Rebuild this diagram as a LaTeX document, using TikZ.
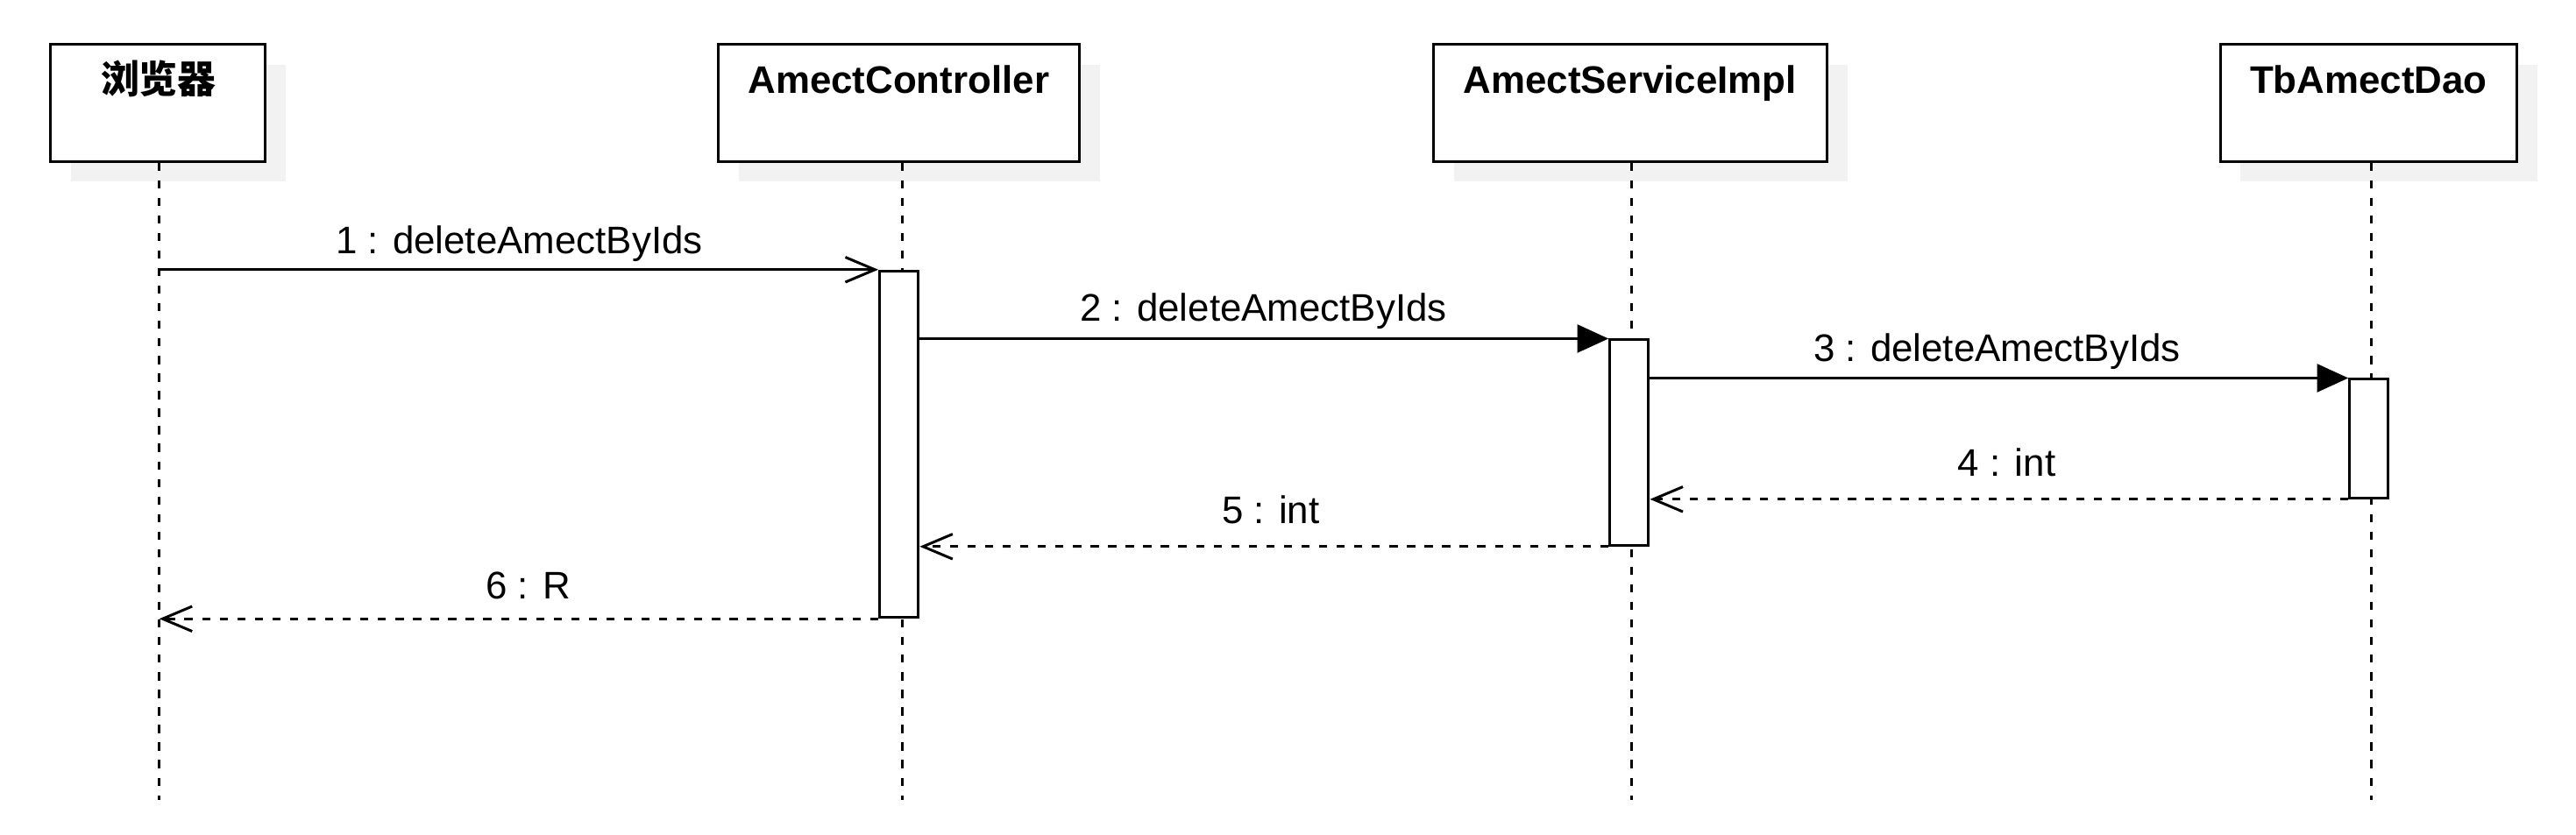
\documentclass[tikz,border=0pt]{standalone}
\usepackage{fontspec}
\setmainfont{Liberation Sans}
\newfontfamily\cjk{Noto Sans CJK SC}
\usetikzlibrary{arrows.meta,shadows,calc}
\definecolor{shadowgray}{HTML}{F2F2F2}
\begin{document}
\begin{tikzpicture}[x=0.5pt,y=-0.5pt,
  every node/.style={font=\fontsize{11.7}{14}\selectfont},
  actor/.style={draw, line width=0.8pt, fill=white, inner sep=0pt, minimum height=35.5pt,
    drop shadow={shadow xshift=6.25pt, shadow yshift=-6.25pt, fill=shadowgray, opacity=1}},
  title/.style={anchor=base, inner sep=0pt, font=\fontsize{11.7}{14}\selectfont\bfseries},
  lifeline/.style={line width=0.8pt, dash pattern=on 2.5pt off 2.85pt},
  bar/.style={draw, line width=0.8pt, fill=white, inner sep=0pt, minimum width=11.8pt},
  msglabel/.style={anchor=base, inner sep=0pt},
  call/.style={line width=0.8pt, -{Triangle[length=9.5pt, width=8.5pt]}},
  opencall/.style={line width=0.8pt, -{Straight Barb[length=9pt, width=7.6pt]}},
  ret/.style={line width=0.8pt, dash pattern=on 2.5pt off 2.85pt, -{Straight Barb[length=9pt, width=7.6pt]}}
]
\path[fill=white, use as bounding box] (0,0) rectangle (1568,508);

% participants
\node[actor, minimum width=65.5pt] (b1) at (96.1,62.7) {};
\node[actor, minimum width=110pt] (b2) at (547,62.7) {};
\node[actor, minimum width=119.85pt] (b3) at (992.2,62.7) {};
\node[actor, minimum width=90.3pt] (b4) at (1441.7,62.7) {};

\node[title] (t1) at (96.5,57) {\cjk\bfseries 浏览器};
\node[title] (t2) at (547,57) {AmectController};
\node[title] (t3) at (992.2,57) {AmectServiceImpl};
\node[title] (t4) at (1441.7,57) {TbAmectDao};

% lifelines
\coordinate (e1) at (96.9,487);
\coordinate (e2) at (549,487);
\coordinate (e3) at (993.2,487);
\coordinate (e4) at (1443.2,487);
\draw[lifeline] (b1.south -| e1) -- (e1);
\draw[lifeline] (b2.south -| e2) -- (e2);
\draw[lifeline] (b3.south -| e3) -- (e3);
\draw[lifeline] (b4.south -| e4) -- (e4);

% activation bars
\node[bar, minimum height=105.5pt] (a2) at (547.2,270.5) {};
\node[bar, minimum height=62.5pt] (a3) at (991.7,269.5) {};
\node[bar, minimum height=36.1pt] (a4) at (1442,267.1) {};

% messages
\draw[opencall] (e1 |- a2.north west) -- (a2.north west);
\draw[call] (a2.east |- a3.north west) -- (a3.north west);
\draw[call] (a3.east |- a4.north west) -- (a4.north west);
\draw[ret] (a4.south west) -- (a3.east |- a4.south west);
\draw[ret] (a3.south west) -- (a2.east |- a3.south west);
\draw[ret] (a2.south west) -- (e1 |- a2.south west);

% labels
\node[msglabel] (m1) at (316,154.5) {1 : deleteAmectByIds};
\node[msglabel] (m2) at (769,195.5) {2 : deleteAmectByIds};
\node[msglabel] (m3) at (1215.5,220) {3 : deleteAmectByIds};
\node[msglabel] (m4) at (1221.5,290) {4 : int};
\node[msglabel] (m5) at (773.5,319) {5 : int};
\node[msglabel] (m6) at (321.5,364.5) {6 : R};
\end{tikzpicture}
\end{document}
